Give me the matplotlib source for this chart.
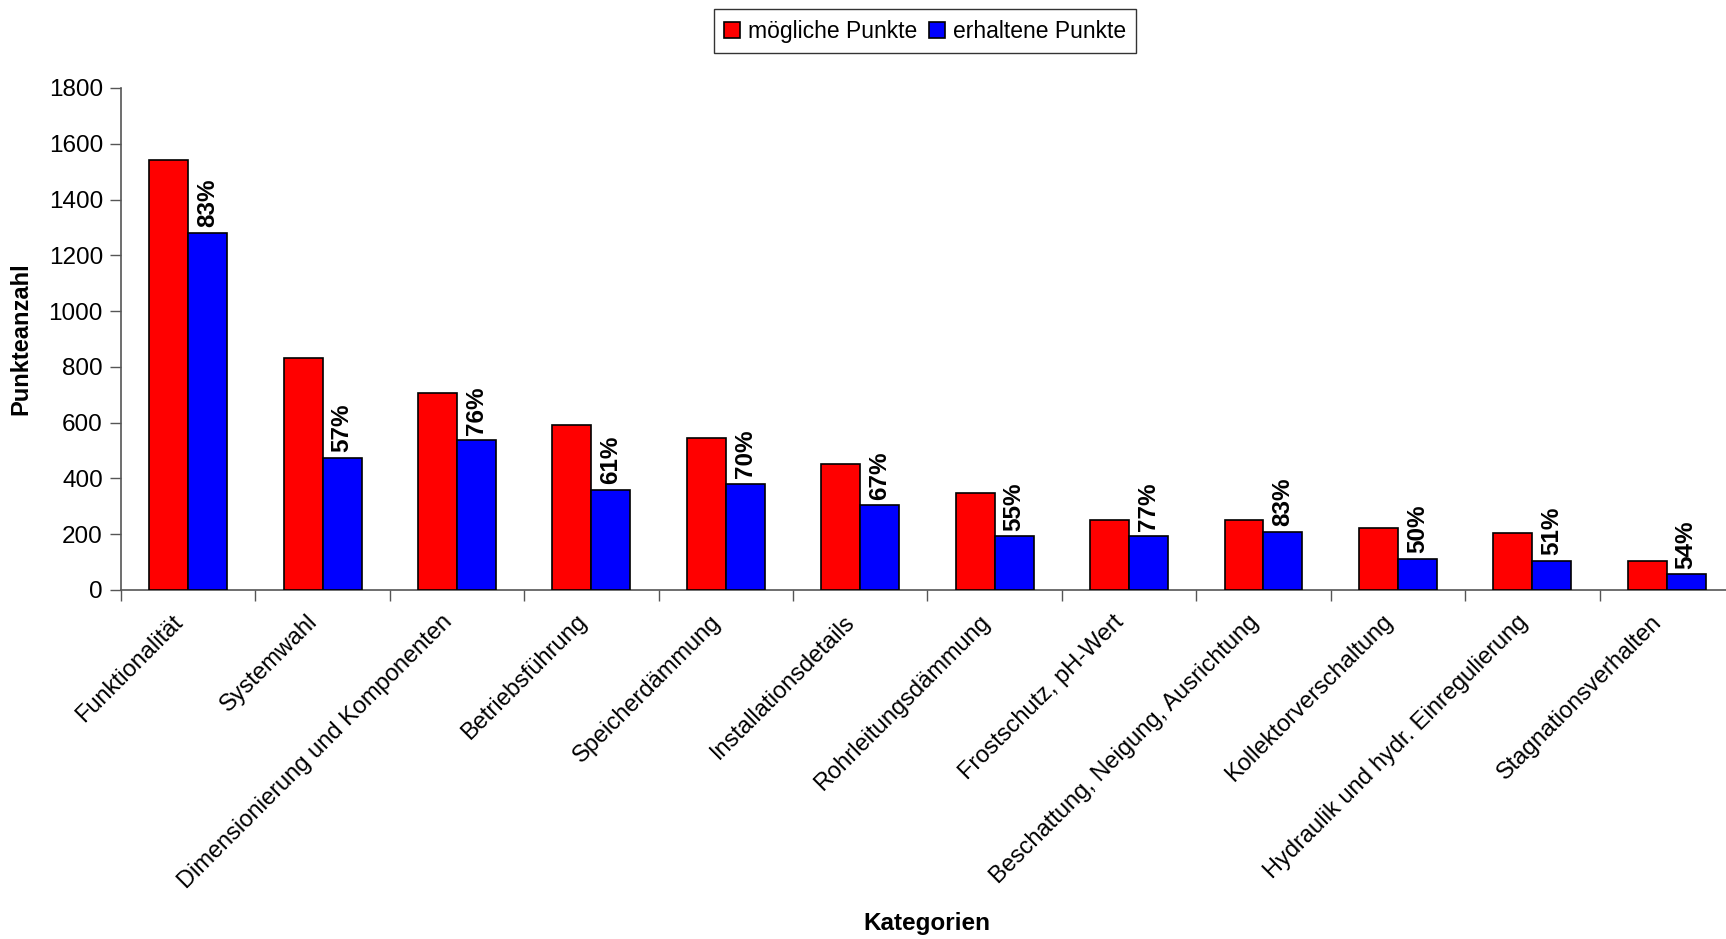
import matplotlib
matplotlib.use("Agg")
import matplotlib.pyplot as plt
import matplotlib.transforms as mtransforms
import numpy as np
from matplotlib.ticker import FixedLocator, NullFormatter

plt.rcParams['font.family'] = ['Liberation Sans', 'DejaVu Sans']

categories = [
    "Funktionalität", "Systemwahl", "Dimensionierung und Komponenten",
    "Betriebsführung", "Speicherdämmung", "Installationsdetails",
    "Rohrleitungsdämmung", "Frostschutz, pH-Wert",
    "Beschattung, Neigung, Ausrichtung", "Kollektorverschaltung",
    "Hydraulik und hydr. Einregulierung", "Stagnationsverhalten",
]
moegliche = [1540, 831, 705, 592, 546, 453, 349, 250, 250, 223, 204, 105]
erhaltene = [1280, 474, 536, 360, 381, 304, 193, 192, 208, 112, 105, 57]
y_ticks = [0, 200, 400, 600, 800, 1000, 1200, 1400, 1600, 1800]

fig = plt.figure(figsize=(17.26, 9.39), dpi=100)
ax = fig.add_axes([0.0701, 0.3717, 0.9345, 0.5346])

x = np.arange(len(categories))
w = 0.29
ax.bar(x - w / 2, moegliche, w, color="#FF0000", edgecolor="black",
       linewidth=1.2, label="mögliche Punkte", zorder=3)
ax.bar(x + w / 2, erhaltene, w, color="#0000FF", edgecolor="black",
       linewidth=1.2, label="erhaltene Punkte", zorder=3)

for xi, m, e in zip(x, moegliche, erhaltene):
    ax.annotate(f"{round(100 * e / m)}%", xy=(xi + w / 2, e),
                xytext=(0, 4), textcoords="offset points",
                rotation=90, ha="center", va="bottom",
                fontsize=17.5, fontweight="bold")

ax.set_xlim(-0.5, len(categories) - 0.5)
ax.set_ylim(0, 1800)
ax.set_yticks(y_ticks)
ax.tick_params(axis="y", labelsize=17.5, length=8, width=1, color="#555555",
               pad=5)

ax.set_xticks(x)
ax.set_xticklabels(categories, rotation=45, ha="right",
                   rotation_mode="anchor", fontsize=17)
ax.tick_params(axis="x", which="major", length=0, pad=15)
shift = mtransforms.ScaledTranslation(-16 / 100, 0, fig.dpi_scale_trans)
for lbl in ax.get_xticklabels():
    lbl.set_transform(lbl.get_transform() + shift)
ax.xaxis.set_minor_locator(FixedLocator(np.arange(-0.5, len(categories), 1.0)))
ax.xaxis.set_minor_formatter(NullFormatter())
ax.tick_params(axis="x", which="minor", length=8, width=1, color="#555555")

for s in ["top", "right"]:
    ax.spines[s].set_visible(False)
for s in ["left", "bottom"]:
    ax.spines[s].set_color("#555555")
    ax.spines[s].set_linewidth(1.2)

ax.set_ylabel("Punkteanzahl", fontsize=17, fontweight="bold", labelpad=12)
fig.text(0.537, 0.017, "Kategorien", ha="center", va="center",
         fontsize=17.5, fontweight="bold")

leg = fig.legend(loc="upper center", bbox_to_anchor=(0.536, 0.99), ncol=2,
                 fontsize=16.5, frameon=True, fancybox=False, edgecolor="black",
                 handlelength=0.7, handleheight=0.7, handletextpad=0.35,
                 columnspacing=0.5, borderpad=0.45, borderaxespad=0)
leg.get_frame().set_linewidth(1.0)

fig.savefig("out.png", dpi=100)
